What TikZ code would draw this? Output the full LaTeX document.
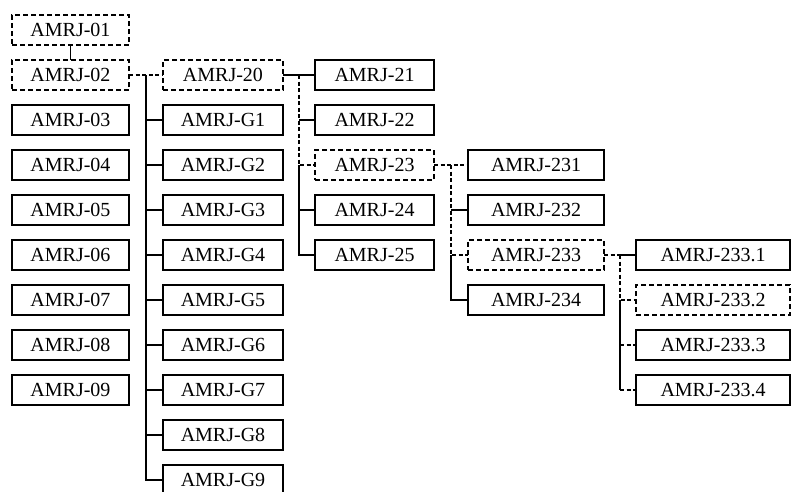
\documentclass[tikz,border=0pt]{standalone}
\usepackage{fontspec}
\setmainfont{Liberation Serif}
\usetikzlibrary{positioning, calc}

\begin{document}
\begin{tikzpicture}[
    x=1pt, y=1pt,
    box/.style={draw, line width=1.2pt, outer sep=0pt, inner sep=1pt,
                minimum height=30pt, font=\fontsize{20}{22}\selectfont},
    dbox/.style={box, dash pattern=on 5pt off 3pt},
    conn/.style={line width=1.3pt},
    dconn/.style={line width=1.3pt, dash pattern=on 4pt off 2.5pt},
    node distance=15pt and 34pt,
  ]
    \useasboundingbox (0,0) rectangle (792,-491);

    \node[dbox, minimum width=117pt] (a01) at (70.5,-30) {AMRJ-01};
    \node[dbox, minimum width=117pt] (a02) [below=of a01] {AMRJ-02};
    \foreach \i [remember=\i as \j (initially 02)] in {03,04,05,06,07,08,09}
      \node[box, minimum width=117pt] (a\i) [below=of a\j] {AMRJ-\i};

    \node[dbox, minimum width=120pt] (a20) [right=of a02] {AMRJ-20};
    \foreach \i [remember=\i as \j (initially 20)] in {G1,G2,G3,G4,G5,G6,G7,G8,G9}
      \node[box, minimum width=120pt] (a\i) [below=of a\j] {AMRJ-\i};

    \node[box, minimum width=119pt]  (a21) [right=32pt of a20] {AMRJ-21};
    \node[box, minimum width=119pt]  (a22) [below=of a21] {AMRJ-22};
    \node[dbox, minimum width=119pt] (a23) [below=of a22] {AMRJ-23};
    \node[box, minimum width=119pt]  (a24) [below=of a23] {AMRJ-24};
    \node[box, minimum width=119pt]  (a25) [below=of a24] {AMRJ-25};

    \node[box, minimum width=136pt]  (a231) [right=of a23] {AMRJ-231};
    \node[box, minimum width=136pt]  (a232) [below=of a231] {AMRJ-232};
    \node[dbox, minimum width=136pt] (a233) [below=of a232] {AMRJ-233};
    \node[box, minimum width=136pt]  (a234) [below=of a233] {AMRJ-234};

    \node[box, minimum width=154pt]  (a2331) [right=32pt of a233] {AMRJ-233.1};
    \node[dbox, minimum width=154pt] (a2332) [below=of a2331] {AMRJ-233.2};
    \node[box, minimum width=154pt]  (a2333) [below=of a2332] {AMRJ-233.3};
    \node[box, minimum width=154pt]  (a2334) [below=of a2333] {AMRJ-233.4};

    \coordinate (t1) at ($(a02.east)!0.5!(a20.west)$);
    \coordinate (t2) at ($(a20.east)!0.5!(a21.west)$);
    \coordinate (t3) at ($(a23.east)!0.5!(a231.west)$);
    \coordinate (t4) at ($(a233.east)!0.5!(a2331.west)$);

    \draw[conn] (a01) -- (a02);
    \draw[dconn] (a02) -- (a20);
    \draw[conn] (t1) |- (aG9);
    \foreach \i in {G1,G2,G3,G4,G5,G6,G7,G8}
      \draw[conn] (t1 |- a\i) -- (a\i);

    \draw[conn] (a20) -- (a21);
    \draw[dconn] (t2) |- (a23);
    \draw[conn] (t2 |- a23) |- (a25);
    \foreach \i in {22,24}
      \draw[conn] (t2 |- a\i) -- (a\i);

    \draw[dconn] (a23) -- (a231);
    \draw[dconn] (t3) |- (a233);
    \draw[conn] (t3 |- a233) |- (a234);
    \draw[conn] (t3 |- a232) -- (a232);

    \draw[dconn] (a233) -- (t4);
    \draw[conn] (t4) -- (a2331);
    \draw[dconn] (t4) |- (a2332);
    \draw[conn] (t4 |- a2332) -- (t4 |- a2334);
    \foreach \i in {2333,2334}
      \draw[dconn] (t4 |- a\i) -- (a\i);
  \end{tikzpicture}
\end{document}
